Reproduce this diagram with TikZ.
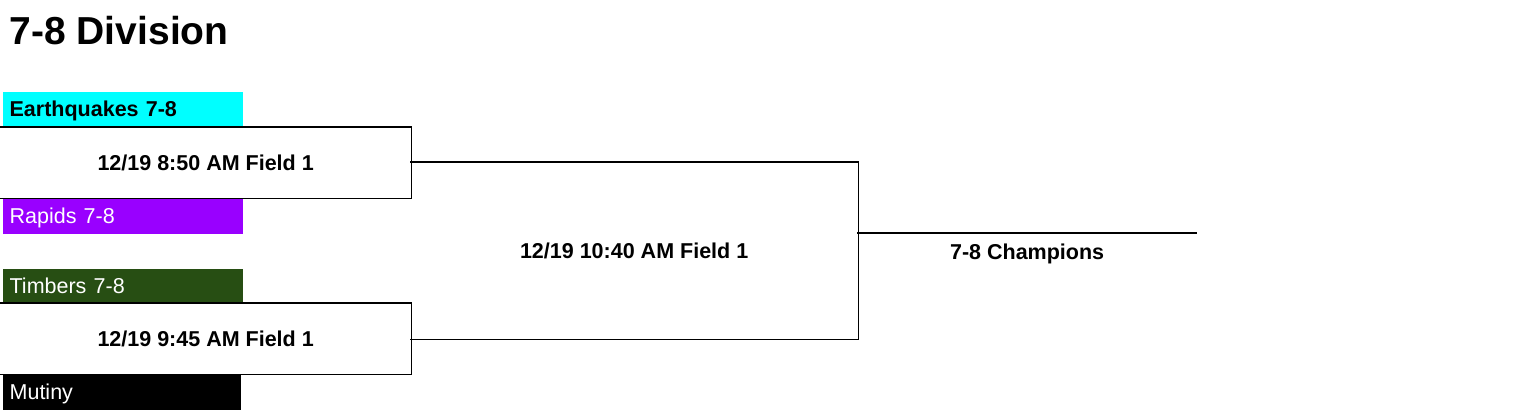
\documentclass[tikz,border=0pt]{standalone}
\usepackage{fontspec}
\setmainfont{Liberation Sans}
\definecolor{quakes}{RGB}{0,255,255}
\definecolor{rapids}{RGB}{153,0,255}
\definecolor{timbers}{RGB}{39,78,19}
\begin{document}
\begin{tikzpicture}[x=1pt,y=-1pt,line width=1.3pt]

        \useasboundingbox (0,0) rectangle (1536,412);

        \node[anchor=base west,inner sep=0pt,font=\fontsize{39}{45}\selectfont\bfseries] (title) at (9,45) {7-8 Division};

        % teams
        \begin{scope}[every node/.style={anchor=north west,rectangle,minimum width=240pt,minimum height=35pt,
            inner xsep=7pt,text width=226pt,align=left,text height=15.4pt,text depth=0pt,font=\fontsize{21.5}{24}\selectfont}]
          \node[fill=quakes,font=\fontsize{21.5}{24}\selectfont\bfseries] (quakes)  at (2,91)  {Earthquakes 7-8};
          \node[fill=rapids,text=white]  (rapids)  at (2,198) {Rapids 7-8};
          \node[fill=timbers,text=white] (timbers) at (2,268) {Timbers 7-8};
          \node[fill=black,text=white,minimum width=238pt,text width=224pt] (mutiny) at (2,374) {Mutiny};
        \end{scope}

        % games
        \begin{scope}[every node/.style={anchor=north west,rectangle,inner sep=0pt,text height=15.4pt,text depth=0pt,
            font=\fontsize{21.5}{24}\selectfont\bfseries}]
          \node[minimum width=410pt,minimum height=70pt] (g1) at (0,127)   {12/19 8:50 AM Field 1};
          \node[minimum width=410pt,minimum height=70pt] (g2) at (0,303)   {12/19 9:45 AM Field 1};
          \node[minimum width=447pt,minimum height=176pt] (g3) at (410,162) {12/19 10:40 AM Field 1};
          \node[minimum width=339pt,minimum height=36pt] (champ) at (857,233) {7-8 Champions};
        \end{scope}

        \draw (g1.north west) -- (g1.north east) -- (g1.south east) -- (g1.south west);
        \draw (g2.north west) -- (g2.north east) -- (g2.south east) -- (g2.south west);
        \draw (g3.north west) -- (g3.north east) -- (g3.south east) -- (g3.south west);
        \draw (champ.north west) -- (champ.north east);

      \end{tikzpicture}
\end{document}
